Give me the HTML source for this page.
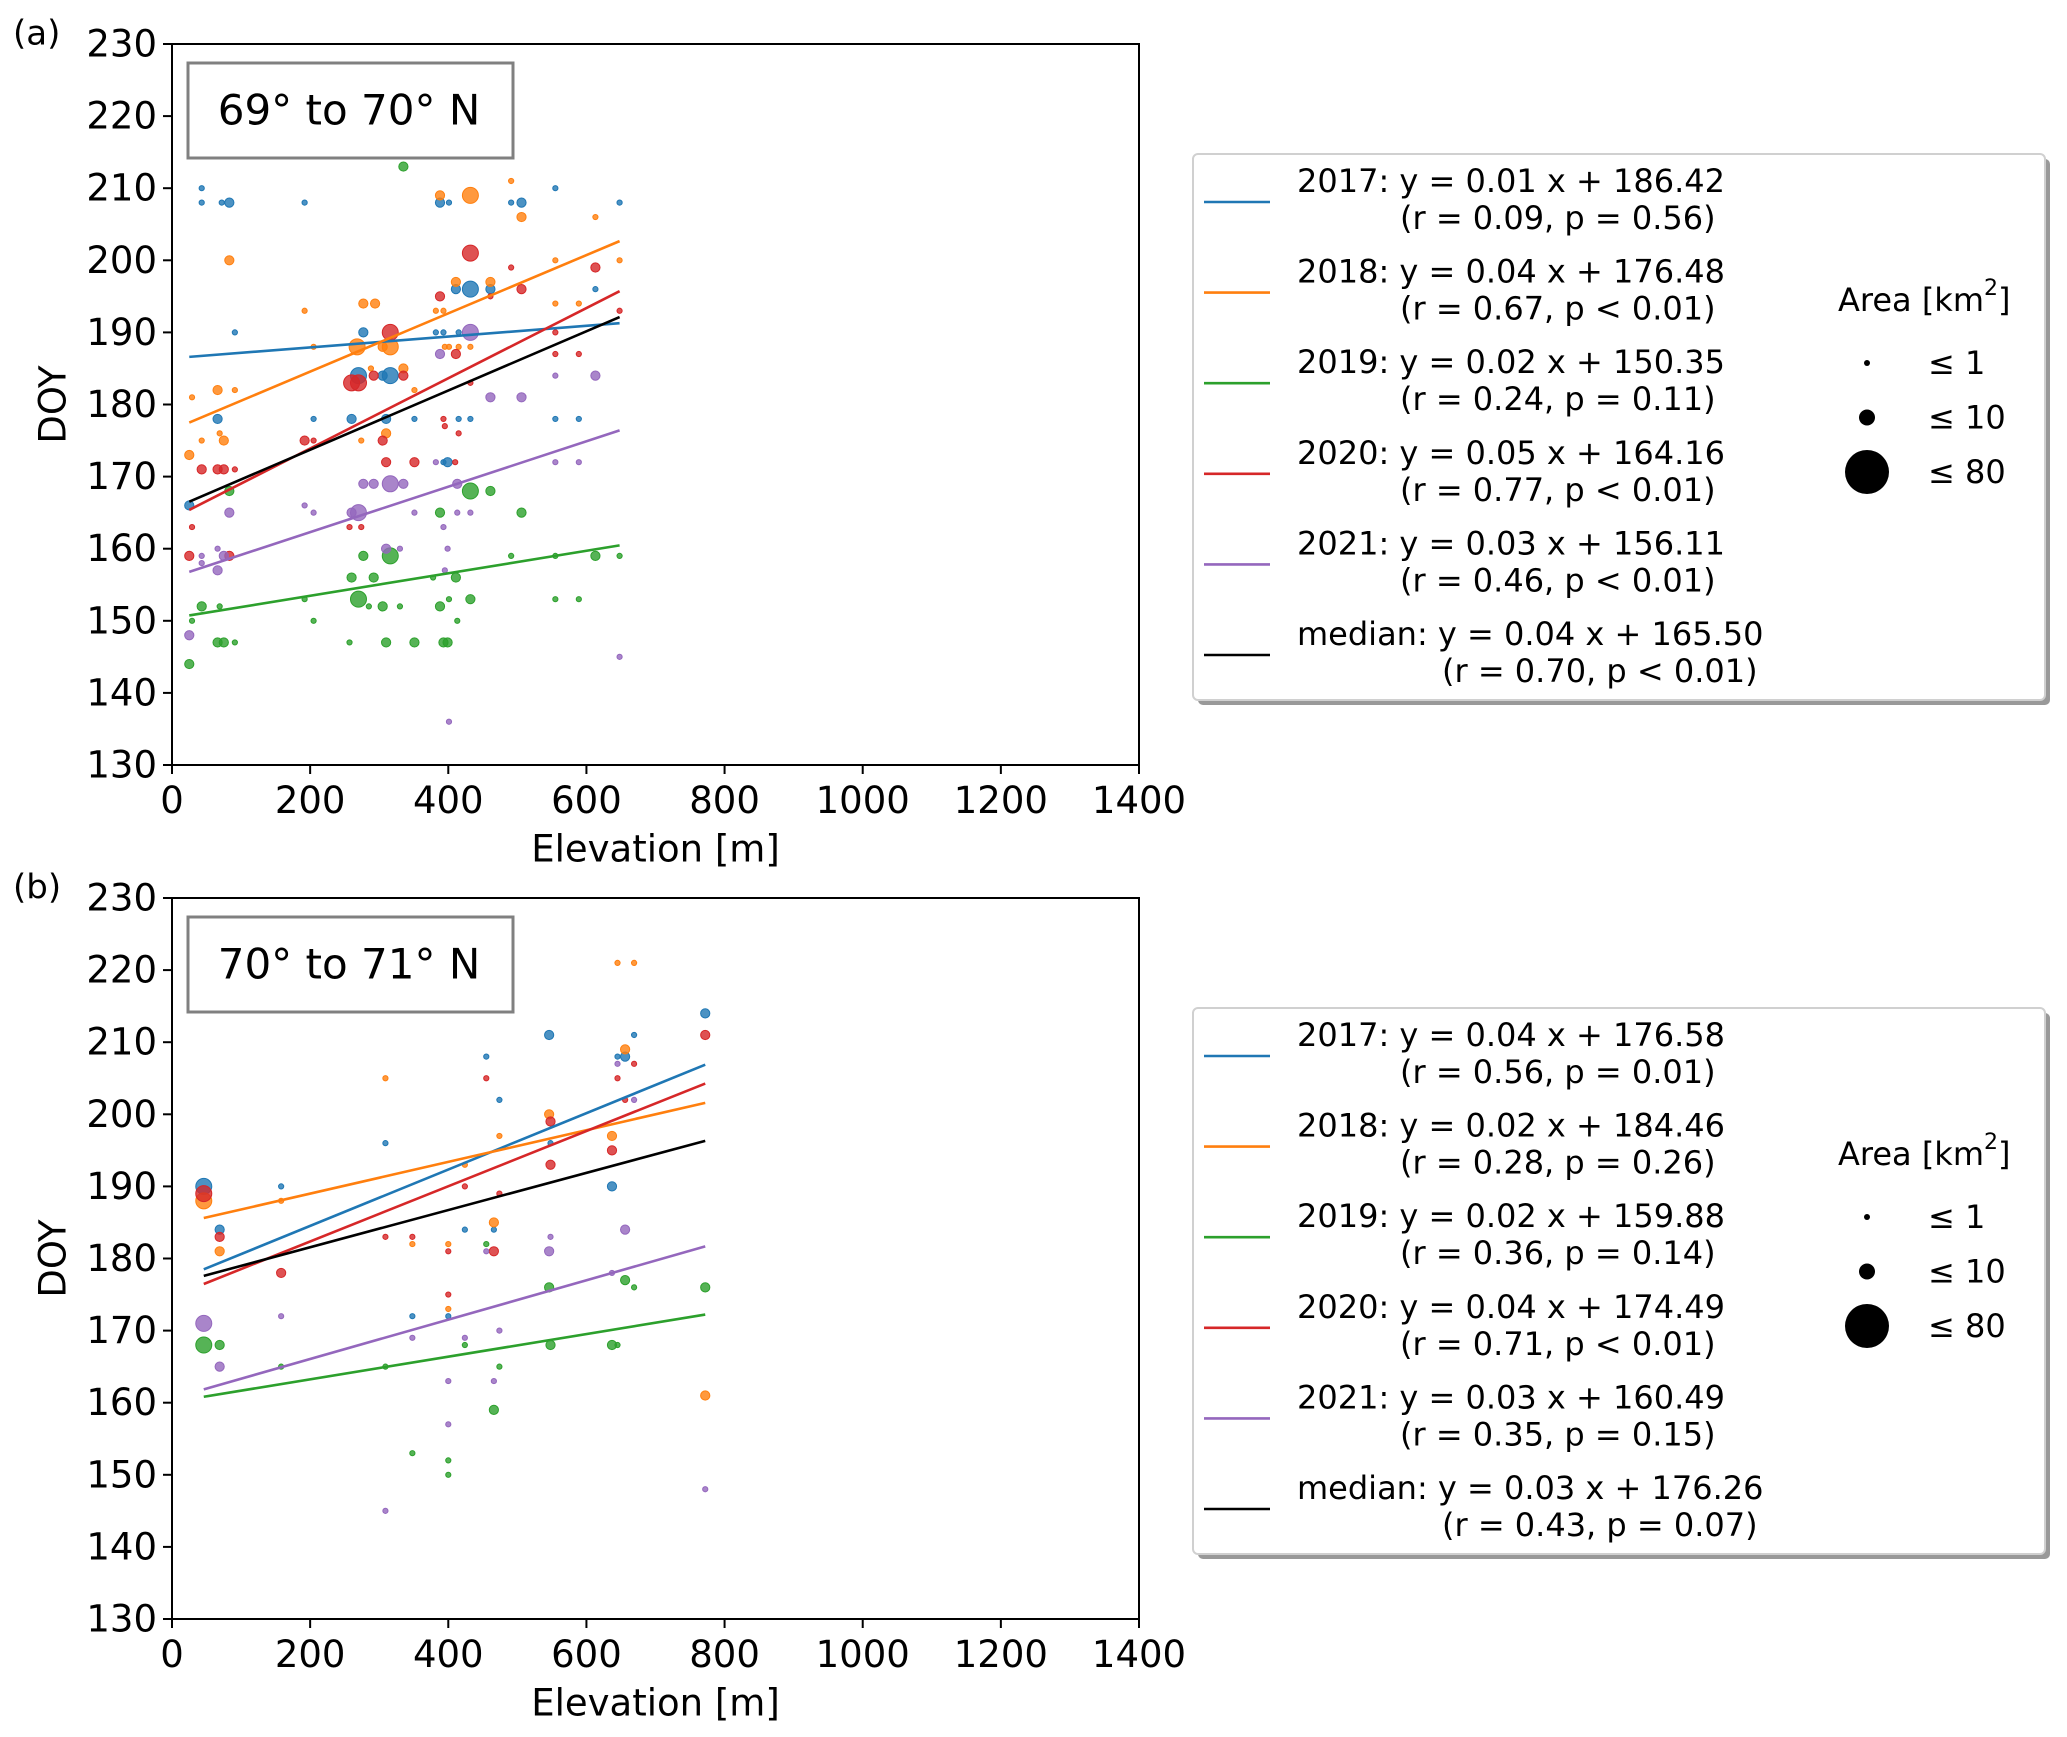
<!DOCTYPE html>
<html><head><meta charset="utf-8">
<style>
html,body{margin:0;padding:0;background:#fff;}
svg{display:block;font-family:"DejaVu Sans","Liberation Sans",sans-serif;}
</style></head>
<body>
<svg id="fig" width="2067" height="1737" viewBox="0 0 2067 1737" xmlns="http://www.w3.org/2000/svg"></svg>
<script>
// ---------- data ----------
const xTicks = [0,200,400,600,800,1000,1200,1400];
const yTicks = [130,140,150,160,170,180,190,200,210,220,230];
const years = ['2017','2018','2019','2020','2021','median'];
const colors = ['#1f77b4','#ff7f0e','#2ca02c','#d62728','#9467bd','#000000'];

// panel a points: [elevation, doy, sizeClass]
const a2017 = [[43,210,0],[43,208,0],[72,208,0],[83,208,1],[192,208,0],[91,190,0],[25,166,1],[66,178,1],[205,178,0],[260,178,1],[277,190,1],[270,184,2],[316,184,2],[305,184,1],[310,178,1],[351,178,0],[388,208,1],[401,208,0],[411,196,1],[432,196,2],[461,196,1],[382,190,0],[393,190,0],[415,190,0],[415,178,0],[432,178,0],[393,172,0],[399,172,1],[491,208,0],[506,208,1],[555,210,0],[555,178,0],[589,178,0],[613,196,0],[648,208,0]];
const a2018 = [[29,181,0],[25,173,1],[43,175,0],[66,182,1],[69,176,0],[75,175,1],[83,200,1],[91,182,0],[192,193,0],[205,188,0],[268,188,2],[277,194,1],[294,194,1],[305,188,1],[316,188,2],[288,185,0],[335,185,1],[351,182,0],[310,176,1],[274,175,0],[388,209,1],[432,209,2],[411,197,1],[461,197,1],[382,193,0],[393,193,0],[395,188,0],[401,188,0],[415,188,0],[432,188,0],[491,211,0],[506,206,1],[555,200,0],[555,194,0],[589,194,0],[613,206,0],[648,200,0]];
const a2019 = [[335,213,1],[25,144,1],[29,150,0],[43,152,1],[66,147,1],[75,147,1],[91,147,0],[69,152,0],[83,168,1],[192,153,0],[205,150,0],[257,147,0],[260,156,1],[270,153,2],[277,159,1],[292,156,1],[316,159,2],[285,152,0],[305,152,1],[330,152,0],[378,156,0],[388,152,1],[401,153,0],[413,150,0],[393,147,1],[399,147,1],[310,147,1],[351,147,1],[388,165,1],[411,156,1],[432,168,2],[461,168,1],[432,153,1],[506,165,1],[491,159,0],[555,153,0],[589,153,0],[555,159,0],[613,159,1],[648,159,0]];
const a2020 = [[25,159,1],[29,163,0],[43,171,1],[66,171,1],[75,171,1],[91,171,0],[83,159,1],[192,175,1],[205,175,0],[270,183,2],[260,183,2],[292,184,1],[335,184,1],[316,190,2],[257,163,0],[274,163,0],[305,175,1],[310,172,1],[351,172,1],[388,195,1],[432,201,2],[393,178,0],[395,177,0],[415,176,0],[410,172,0],[432,183,0],[411,187,1],[461,195,0],[491,199,0],[506,196,1],[555,190,0],[555,187,0],[589,187,0],[613,199,1],[648,193,0]];
const a2021 = [[25,148,1],[43,159,0],[43,158,0],[66,157,1],[66,160,0],[83,165,1],[75,159,1],[192,166,0],[205,165,0],[270,165,2],[260,165,1],[277,169,1],[292,169,1],[316,169,2],[335,169,1],[310,160,1],[330,160,0],[351,165,0],[388,187,1],[432,190,2],[382,172,0],[393,163,0],[395,157,0],[399,160,0],[413,169,1],[413,165,0],[432,165,0],[461,181,1],[506,181,1],[401,136,0],[555,184,0],[613,184,1],[555,172,0],[589,172,0],[648,145,0]];

// panel b points
const b2017 = [[46,190,2],[69,184,1],[158,190,0],[309,196,0],[348,172,0],[400,172,0],[424,184,0],[455,208,0],[466,184,0],[474,202,0],[546,211,1],[548,196,0],[637,190,1],[645,208,0],[656,208,1],[669,211,0],[772,214,1]];
const b2018 = [[46,188,2],[69,181,1],[158,188,0],[309,205,0],[348,182,0],[400,182,0],[400,173,0],[424,193,0],[455,215,0],[466,185,1],[474,197,0],[546,200,1],[637,197,1],[656,209,1],[645,221,0],[669,221,0],[772,161,1]];
const b2019 = [[46,168,2],[69,168,1],[158,165,0],[309,165,0],[348,153,0],[400,152,0],[400,150,0],[455,182,0],[424,168,0],[474,165,0],[466,159,1],[548,168,1],[546,176,1],[637,168,1],[645,168,0],[656,177,1],[669,176,0],[772,176,1]];
const b2020 = [[46,189,2],[69,183,1],[158,178,1],[309,183,0],[348,183,0],[400,181,0],[400,175,0],[424,190,0],[455,205,0],[466,181,1],[474,189,0],[548,199,1],[548,193,1],[637,195,1],[645,205,0],[656,202,0],[669,207,0],[772,211,1]];
const b2021 = [[46,171,2],[69,165,1],[158,172,0],[309,145,0],[348,169,0],[400,163,0],[400,157,0],[424,169,0],[455,181,0],[466,163,0],[474,170,0],[548,183,0],[546,181,1],[637,178,0],[645,207,0],[656,184,1],[669,202,0],[772,148,0]];

// regression lines: slopes, intercepts, x-range
const aSlopes = [0.0075,0.0404,0.0156,0.0487,0.0315,0.0411];
const aInts = [186.42,176.48,150.35,164.16,156.0,165.5];
const aRange = [25,648];
const bSlopes = [0.0391,0.0220,0.0157,0.0383,0.0273,0.0258];
const bInts = [176.7,184.6,160.1,174.7,160.6,176.4];
const bRange = [46,772];

const aLegend = [
 ['2017: y = 0.01 x + 186.42','(r = 0.09, p = 0.56)'],
 ['2018: y = 0.04 x + 176.48','(r = 0.67, p < 0.01)'],
 ['2019: y = 0.02 x + 150.35','(r = 0.24, p = 0.11)'],
 ['2020: y = 0.05 x + 164.16','(r = 0.77, p < 0.01)'],
 ['2021: y = 0.03 x + 156.11','(r = 0.46, p < 0.01)'],
 ['median: y = 0.04 x + 165.50','(r = 0.70, p < 0.01)']];
const bLegend = [
 ['2017: y = 0.04 x + 176.58','(r = 0.56, p = 0.01)'],
 ['2018: y = 0.02 x + 184.46','(r = 0.28, p = 0.26)'],
 ['2019: y = 0.02 x + 159.88','(r = 0.36, p = 0.14)'],
 ['2020: y = 0.04 x + 174.49','(r = 0.71, p < 0.01)'],
 ['2021: y = 0.03 x + 160.49','(r = 0.35, p = 0.15)'],
 ['median: y = 0.03 x + 176.26','(r = 0.43, p = 0.07)']];
const sizeLabels = ['≤ 1','≤ 10','≤ 80'];
const sizeRadii = [2.6,4.6,8];

// ---------- drawing ----------
const NS='http://www.w3.org/2000/svg';
const svg=document.getElementById('fig');
function mk(tag,attrs,parent){const e=document.createElementNS(NS,tag);for(const k in attrs)e.setAttribute(k,attrs[k]);(parent||svg).appendChild(e);return e;}

function panel(id,top,title,pts,slopes,ints,range,legend){
  const L=172,R=1139,T=top,B=top+721;
  const g=mk('g',{});
  
  
  const xs=v=>L+(v-0)/1400*(R-L);
  const ys=v=>B-(v-130)/100*(B-T);
  const pl=mk('text',{x:13,y:top-9,'font-size':34,'dominant-baseline':'middle'},g);
  pl.textContent='('+id+')';
  
  
  const pg=mk('g',{},g);
  
  
  pts.forEach((ser,si)=>{
    ser.forEach(p=>{
      const c=mk('circle',{cx:xs(p[0]),cy:ys(p[1]),r:sizeRadii[p[2]],fill:colors[si],'fill-opacity':0.8,stroke:colors[si],'stroke-width':1},pg);
      
      
    });
  });
  slopes.forEach((s,i)=>{
    const ln=mk('line',{x1:xs(range[0]),y1:ys(ints[i]+s*range[0]),x2:xs(range[1]),y2:ys(ints[i]+s*range[1]),stroke:colors[i],'stroke-width':2.6},g);
    
    
  });
  const fr=mk('rect',{x:L,y:T,width:R-L,height:B-T,fill:'none',stroke:'#000','stroke-width':2},g);
  
  
  xTicks.forEach(t=>{
    const x=xs(t);
    mk('line',{x1:x,y1:B,x2:x,y2:B+9,stroke:'#000','stroke-width':2},g);
    const tx=mk('text',{x:x,y:B+21,'font-size':37,'text-anchor':'middle','dominant-baseline':'hanging'},g);
    tx.textContent=t;
    
    
  });
  yTicks.forEach(t=>{
    const y=ys(t);
    mk('line',{x1:L-9,y1:y,x2:L,y2:y,stroke:'#000','stroke-width':2},g);
    const ty=mk('text',{x:L-15,y:y,'font-size':37,'text-anchor':'end','dominant-baseline':'central'},g);
    ty.textContent=t;
    
    
  });
  const xl=mk('text',{x:(L+R)/2,y:B+84,'font-size':37,'text-anchor':'middle','dominant-baseline':'central'},g);
  xl.textContent='Elevation [m]';
  
  
  const yl=mk('text',{x:0,y:0,'font-size':37,'text-anchor':'middle','dominant-baseline':'central',transform:`translate(53,${(T+B)/2}) rotate(-90)`},g);
  yl.textContent='DOY';
  
  
  const tb=mk('rect',{x:188,y:T+19,width:325,height:95,fill:'#fff',stroke:'#808080','stroke-width':3},g);
  
  
  const tt=mk('text',{x:349,y:T+66,'font-size':42,'text-anchor':'middle','dominant-baseline':'central'},g);
  tt.textContent=title;
  
  
  const lg=mk('g',{},g);
  
  
  const LT=T+110;
  mk('rect',{x:1198,y:LT+5,width:852,height:546,rx:5,fill:'#999'},lg);
  mk('rect',{x:1193,y:LT,width:852,height:546,rx:5,fill:'#fff',stroke:'#d0d0d0','stroke-width':2},lg);
  legend.forEach((lab,i)=>{
    const cy=LT+48+i*90.6;
    const le=mk('line',{x1:1204,y1:cy,x2:1270,y2:cy,stroke:colors[i],'stroke-width':2.6},lg);
    
    
    const t1=mk('text',{x:1297,y:cy-21,'font-size':32,'dominant-baseline':'central'},lg);
    t1.textContent=lab[0];
    
    
    const t2=mk('text',{x:i===5?1442:1400,y:cy+16,'font-size':32,'dominant-baseline':'central'},lg);
    t2.textContent=lab[1];
    
    
  });
  const at=mk('text',{x:1838,y:LT+146,'font-size':32,'dominant-baseline':'central'},lg);
  at.innerHTML='Area [km<tspan dy="-12" font-size="22">2</tspan><tspan dy="12">]</tspan>';
  
  
  const lr=[3,8,22];
  sizeLabels.forEach((s,i)=>{
    const cy=LT+209+i*54.5;
    const c=mk('circle',{cx:1867,cy:cy,r:lr[i],fill:'#000'},lg);
    
    
    const t=mk('text',{x:1928,y:cy,'font-size':32,'dominant-baseline':'central'},lg);
    t.textContent=s;
    
    
  });
}
panel('a',44,'69° to 70° N',[a2017,a2018,a2019,a2020,a2021],aSlopes,aInts,aRange,aLegend);
panel('b',898,'70° to 71° N',[b2017,b2018,b2019,b2020,b2021],bSlopes,bInts,bRange,bLegend);
</script>
</body></html>
